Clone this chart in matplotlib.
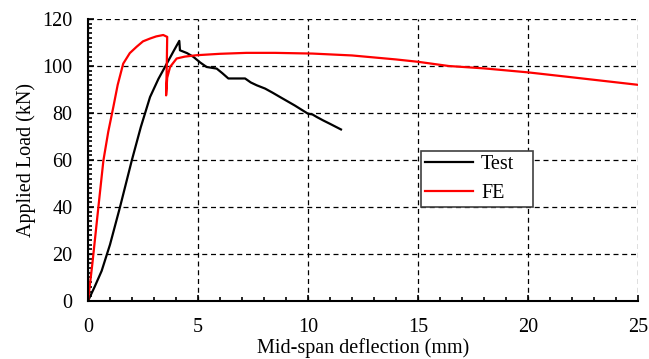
import numpy as np
import matplotlib.pyplot as plt
from matplotlib.ticker import MultipleLocator

plt.rcParams['font.family'] = ['Liberation Serif', 'DejaVu Serif']

# Test curve
test_x = [0.0, 0.3, 0.62, 1.0, 1.45, 1.99, 2.4, 2.82, 3.2, 3.58, 3.9, 4.15,
          4.18, 4.5, 4.79, 5.1, 5.39, 5.85, 6.1, 6.38, 7.14, 7.4, 7.67, 8.05,
          8.4, 8.73, 9.4, 10.0, 10.2, 10.4, 10.7, 11.0, 11.5]
test_y = [0.0, 6.0, 12.8, 24.0, 39.8, 59.8, 74.0, 86.8, 94.5, 101.0, 106.5, 110.7,
          106.7, 105.5, 103.9, 101.5, 99.6, 98.9, 97.0, 94.7, 94.7, 93.0, 91.8, 90.4,
          88.6, 86.8, 83.2, 79.7, 79.4, 78.3, 76.8, 75.4, 73.0]

# FE curve
fe_x = [0.0, 0.2, 0.47, 0.7, 0.92, 1.15, 1.35, 1.6, 1.9, 2.21, 2.5, 2.82,
        3.1, 3.42, 3.6, 3.58, 3.55, 3.6, 3.73, 4.03, 4.4, 4.94, 6.0, 7.2,
        8.5, 10.2, 12.0, 14.0, 15.0, 16.4, 18.0, 20.0, 22.0, 25.0]
fe_y = [0.0, 16.0, 39.8, 59.8, 72.0, 82.5, 92.0, 101.0, 105.5, 108.2, 110.5, 111.7,
        112.6, 113.2, 112.4, 100.0, 87.5, 95.0, 99.6, 103.2, 104.0, 104.6, 105.2, 105.6,
        105.6, 105.3, 104.5, 102.8, 101.8, 100.0, 99.0, 97.3, 95.2, 92.0]

fig = plt.figure(figsize=(6.49, 3.59), dpi=100)
ax = fig.add_axes([0.1356, 0.1616, 0.8474, 0.7854])

ax.plot(test_x, test_y, color='black', lw=1.6, label='Test')
ax.plot(fe_x, fe_y, color='#ff0000', lw=1.6, label='FE')

ax.set_xlim(0, 25)
ax.set_ylim(0, 120)
ax.xaxis.set_major_locator(MultipleLocator(5))
ax.xaxis.set_minor_locator(MultipleLocator(1))
ax.yaxis.set_major_locator(MultipleLocator(20))
ax.yaxis.set_minor_locator(MultipleLocator(2))

ax.grid(True, which='major', color='black', ls=(0, (4, 3)), lw=0.9)
for s in ['top', 'right']:
    ax.spines[s].set_visible(False)
for s in ['left', 'bottom']:
    ax.spines[s].set_linewidth(1.5)

ax.tick_params(which='both', direction='in', labelsize=14.5, width=1.2)
ax.tick_params(axis='x', which='both', pad=12)
ax.tick_params(axis='y', which='both', pad=11)
ax.tick_params(which='major', length=4)
ax.tick_params(which='minor', length=3)

ax.set_xlabel('Mid-span deflection (mm)', fontsize=14.5, labelpad=1)
ax.set_ylabel('Applied Load (kN)', fontsize=14.5, labelpad=5)

leg = ax.legend(loc='lower left', bbox_to_anchor=(0.605, 0.333, 0.205, 0.195),
                mode='expand', fontsize=14.5, fancybox=False, framealpha=1,
                edgecolor='#404040', handlelength=2.4, handletextpad=0.4,
                labelspacing=0.5, borderpad=0.2, borderaxespad=0)
leg.get_frame().set_linewidth(1.2)

fig.savefig('out.png', dpi=100)
